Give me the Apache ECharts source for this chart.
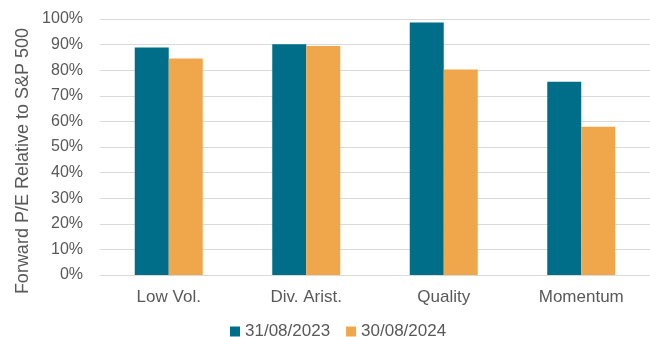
<!DOCTYPE html>
<html>
<head>
<meta charset="utf-8">
<script src="https://cdn.jsdelivr.net/npm/echarts@6/dist/echarts.min.js"></script>
<style>html,body{margin:0;padding:0;background:#fff;}#c{width:650px;height:337px;}</style>
</head>
<body>
<div id="c"></div>
<script>
const categories = ['Low Vol.', 'Div. Arist.', 'Quality', 'Momentum'];
const series2023 = [88.9, 90.1, 98.6, 75.5];
const series2024 = [84.6, 89.5, 80.3, 57.9];
const seriesNames = ['31/08/2023', '30/08/2024'];
const yAxisTitle = 'Forward P/E Relative to S&P 500';

const FONT = '"Liberation Sans", Arial, sans-serif';
const TXT = '#595959';
const chart = echarts.init(document.getElementById('c'), null, {renderer: 'canvas'});
chart.setOption({
  animation: false,
  backgroundColor: '#fff',
  textStyle: {fontFamily: FONT},
  grid: {left: 100, top: 19, width: 558, height: 256, containLabel: false},
  legend: {
    data: seriesNames,
    top: 318,
    left: 225,
    itemWidth: 10, itemHeight: 10, itemGap: 16,
    icon: 'rect',
    textStyle: {color: TXT, fontSize: 17, fontFamily: FONT}
  },
  xAxis: {
    type: 'category',
    data: categories,
    axisTick: {show: false},
    axisLine: {lineStyle: {color: '#d9d9d9', width: 1}},
    axisLabel: {color: TXT, fontSize: 17, fontFamily: FONT, margin: 14}
  },
  yAxis: {
    type: 'value',
    min: 0, max: 100, interval: 10,
    axisLabel: {formatter: '{value}%', color: TXT, fontSize: 16, fontFamily: FONT, margin: 17},
    splitLine: {lineStyle: {color: '#d9d9d9', width: 1}},
    axisLine: {show: false}, axisTick: {show: false}
  },
  graphic: [{
    type: 'text',
    left: 14, top: 28,
    rotation: Math.PI / 2,
    style: {text: yAxisTitle, fill: TXT, font: '18px ' + FONT}
  }],
  series: [
    {name: seriesNames[0], type: 'bar', data: series2023, barWidth: 34, barGap: '0%',
     itemStyle: {color: '#006E89'}},
    {name: seriesNames[1], type: 'bar', data: series2024, barWidth: 34, barGap: '0%',
     itemStyle: {color: '#F0A64B'}}
  ]
});
</script>
</body>
</html>
